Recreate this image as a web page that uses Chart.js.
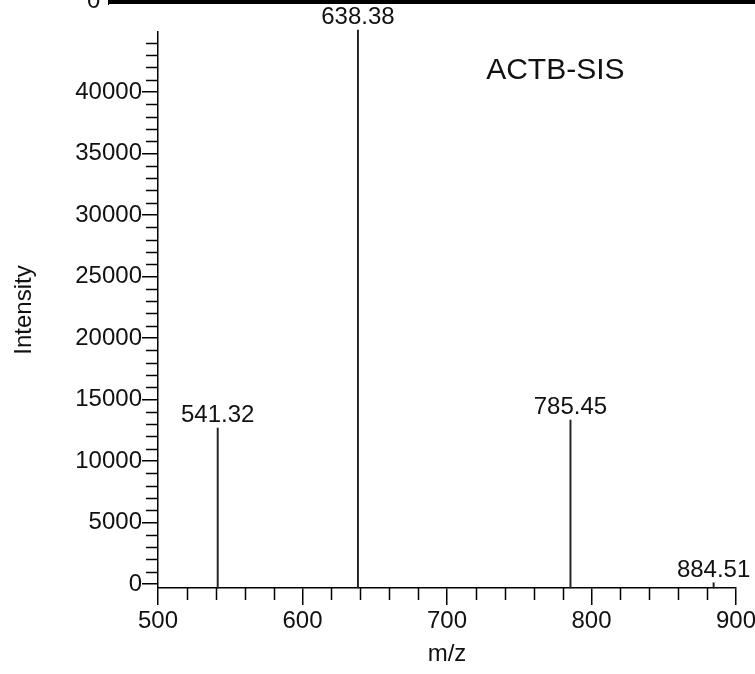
<!DOCTYPE html>
<html>
<head>
<meta charset="utf-8">
<script src="https://cdn.jsdelivr.net/npm/chart.js@4.4.0/dist/chart.umd.min.js"></script>
<style>
  html, body { margin: 0; padding: 0; background: #fff; }
  #wrap { position: relative; width: 755px; height: 674px; overflow: hidden; }
  #spectrum { position: absolute; left: 0; top: 0; }
  /* bottom edge of the panel above */
  .upper-axis { position: absolute; left: 108px; top: 0; width: 647px; height: 4px; background: #000; }
  .upper-tick { position: absolute; top: 0; width: 1px; height: 5px; background: #000; }
  .upper-zero { position: absolute; left: 87px; top: -14px; font: 24px "Liberation Sans", Arial, sans-serif; color: #111; }
</style>
</head>
<body>
<div id="wrap">
  <canvas id="spectrum" width="755" height="674"></canvas>
  <div class="upper-axis"></div>
  <div class="upper-tick" style="left:108px"></div>
  <div class="upper-zero">0</div>
</div>
<script>
const PEAK_MZ = [541.32, 638.38, 785.45, 884.51];
const PEAK_INTENSITY = [12680, 45040, 13330, 100];
const X_TICKS = [500, 600, 700, 800, 900];
const Y_TICKS = [0, 5000, 10000, 15000, 20000, 25000, 30000, 35000, 40000];
const X_MINOR_STEP = 20;
const Y_MINOR_STEP = 1000;
const Y_MIN = -325;
const Y_MAX = 44880;
const PEPTIDE = "ACTB-SIS";

const FONT = '"Liberation Sans", Arial, Helvetica, sans-serif';
const INK = "#111";

// labels each stick with its m/z, plus the peptide name in the plot
const peakLabels = {
  id: "peakLabels",
  afterDatasetsDraw(chart) {
    const ctx = chart.ctx;
    const meta = chart.getDatasetMeta(0);
    const { x, y } = chart.scales;

    ctx.save();
    ctx.fillStyle = INK;
    ctx.textAlign = "center";
    ctx.textBaseline = "alphabetic";
    ctx.font = `24px ${FONT}`;
    meta.data.forEach((bar, i) => {
      ctx.fillText(PEAK_MZ[i].toFixed(2), bar.x, bar.y - 6);
    });

    ctx.font = `30px ${FONT}`;
    ctx.fillText(PEPTIDE, x.getPixelForValue(775), y.getPixelForValue(41060));
    ctx.restore();
  }
};

// shorter unlabelled ticks between the major ones
const minorTicks = {
  id: "minorTicks",
  afterDraw(chart) {
    const ctx = chart.ctx;
    const { x, y } = chart.scales;
    const area = chart.chartArea;

    ctx.save();
    ctx.strokeStyle = "#000";
    ctx.lineWidth = 1.5;
    ctx.beginPath();
    for (let v = X_TICKS[0]; v <= X_TICKS[X_TICKS.length - 1]; v += X_MINOR_STEP) {
      if (v % 100 === 0) continue;
      const px = Math.round(x.getPixelForValue(v)) + 0.5;
      ctx.moveTo(px, area.bottom);
      ctx.lineTo(px, area.bottom + 12);
    }
    for (let v = 0; v <= Y_MAX; v += Y_MINOR_STEP) {
      if (v % 5000 === 0) continue;
      const py = Math.round(y.getPixelForValue(v)) + 0.5;
      ctx.moveTo(area.left - 12, py);
      ctx.lineTo(area.left, py);
    }
    ctx.stroke();
    ctx.restore();
  }
};

new Chart(document.getElementById("spectrum"), {
  type: "bar",
  data: {
    datasets: [{
      data: PEAK_MZ.map((mz, i) => ({ x: mz, y: PEAK_INTENSITY[i] })),
      backgroundColor: "#222",
      barThickness: 1.3,
      base: Y_MIN,
      clip: false
    }]
  },
  options: {
    responsive: false,
    animation: false,
    layout: { padding: { top: 32, right: 19, left: 0, bottom: 0 } },
    plugins: {
      legend: { display: false },
      tooltip: { enabled: false }
    },
    scales: {
      x: {
        type: "linear",
        offset: false,
        min: 500,
        max: 900,
        afterBuildTicks: s => { s.ticks = X_TICKS.map(v => ({ value: v })); },
        afterFit: s => { s.height = 86; s.paddingLeft = 0; s.paddingRight = 0; },
        grid: { offset: false, drawOnChartArea: false, tickLength: 17, color: "#000", lineWidth: 1.5 },
        border: { color: "#000", width: 1.5 },
        ticks: { color: INK, font: { family: FONT, size: 24 }, padding: 2, maxRotation: 0, callback: v => String(v) },
        title: { display: true, text: "m/z", color: INK, font: { family: FONT, size: 24 }, padding: { bottom: 5 } }
      },
      y: {
        type: "linear",
        min: Y_MIN,
        max: Y_MAX,
        afterBuildTicks: s => { s.ticks = Y_TICKS.map(v => ({ value: v })); },
        afterFit: s => { s.width = 158; s.paddingTop = 0; s.paddingBottom = 0; },
        grid: { drawOnChartArea: false, tickLength: 16, color: "#000", lineWidth: 1.5 },
        border: { color: "#000", width: 1.5 },
        ticks: { color: INK, font: { family: FONT, size: 24 }, padding: 0, callback: v => String(v) },
        title: { display: true, text: "Intensity", color: INK, font: { family: FONT, size: 24 }, padding: { top: 10 } }
      }
    }
  },
  plugins: [peakLabels, minorTicks]
});
</script>
</body>
</html>
